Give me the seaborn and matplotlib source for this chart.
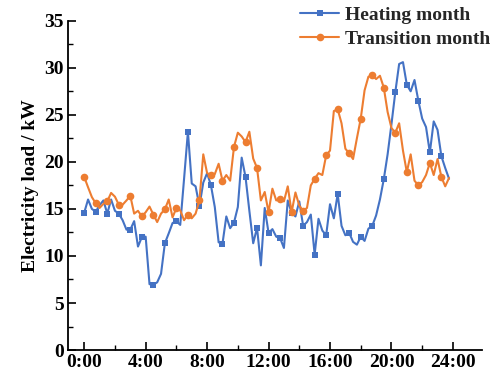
import numpy as np
import pandas as pd
import seaborn as sns
import matplotlib
matplotlib.use("Agg")
import matplotlib.pyplot as plt
from matplotlib.ticker import MultipleLocator

# 15-minute load samples over one day (kW)
heating_month = [
    14.6, 16.0, 15.0, 14.7, 15.4, 15.9, 14.5, 16.0, 14.8, 14.5, 13.8, 12.8,
    12.8, 13.7, 11.0, 12.0, 12.05, 7.0, 6.95, 7.2, 8.1, 11.35, 12.4, 13.5,
    13.7, 13.3, 18.2, 23.2, 17.7, 17.4, 15.3, 17.8, 18.8, 17.5, 15.2, 11.45,
    11.3, 14.2, 12.95, 13.55, 15.2, 20.45, 18.4, 14.8, 11.35, 13.0, 9.0, 15.1,
    12.45, 12.85, 12.05, 11.9, 10.85, 15.9, 14.6, 14.2, 15.8, 13.2, 13.6, 14.4,
    10.15, 13.95, 12.7, 12.2, 15.5, 14.0, 16.6, 13.2, 12.2, 12.45, 11.5, 11.2,
    12.05, 11.6, 12.9, 13.2, 14.3, 16.0, 18.15, 20.8, 24.0, 27.4, 30.4, 30.6,
    28.2, 27.5, 28.7, 26.5, 24.6, 23.7, 21.0, 24.3, 23.4, 20.6, 19.35, 18.2,
]
transition_month = [
    18.4, 17.3, 16.25, 15.6, 15.1, 15.55, 15.8, 16.7, 16.3, 15.45, 15.45, 15.9,
    16.4, 14.5, 14.8, 14.2, 14.65, 15.25, 14.4, 13.6, 14.5, 14.95, 16.0, 14.1,
    15.1, 14.85, 13.8, 14.4, 14.0, 14.5, 15.9, 20.8, 18.8, 18.6, 18.7, 19.8,
    18.0, 18.6, 18.0, 21.6, 23.1, 22.7, 22.1, 23.2, 20.35, 19.35, 15.9, 16.8,
    14.65, 17.15, 15.9, 16.1, 15.8, 17.4, 14.65, 16.75, 15.35, 14.8, 15.1, 17.5,
    18.2, 18.8, 18.6, 20.7, 21.2, 25.4, 25.6, 24.1, 21.4, 20.9, 20.3, 22.5,
    24.6, 27.6, 29.05, 29.2, 28.8, 29.15, 27.9, 25.3, 23.6, 23.1, 24.1, 21.2,
    18.9, 20.8, 18.0, 17.5, 17.85, 18.6, 19.9, 18.6, 20.3, 18.4, 17.4, 18.3,
]
hours = np.arange(len(heating_month)) * 0.25
tick_hours = [0, 4, 8, 12, 16, 20, 24]
tick_labels = ["0:00", "4:00", "8:00", "12:00", "16:00", "20:00", "24:00"]

sns.set_theme(style="ticks")
plt.rcParams["font.family"] = ["Liberation Serif", "DejaVu Serif"]
plt.rcParams["font.weight"] = "bold"
plt.rcParams["axes.labelweight"] = "bold"

fig = plt.figure(figsize=(4.97, 3.74), dpi=100)
ax = fig.add_axes([0.137, 0.064, 0.833, 0.8806])

blue = "#4472C4"
orange = "#ED7D31"

sns.lineplot(x=hours, y=heating_month, ax=ax, color=blue, linewidth=1.5,
             marker="s", markersize=5, markeredgewidth=0, markevery=3,
             label="Heating month")
sns.lineplot(x=hours, y=transition_month, ax=ax, color=orange, linewidth=1.5,
             marker="o", markersize=5.5, markeredgewidth=0, markevery=3,
             label="Transition month")

ax.set_xlim(-1.05, 25.9)
ax.set_ylim(0, 35)
ax.set_xticks(tick_hours)
ax.set_xticklabels(tick_labels)
ax.xaxis.set_minor_locator(MultipleLocator(2))
ax.yaxis.set_major_locator(MultipleLocator(5))
ax.yaxis.set_minor_locator(MultipleLocator(2.5))
ax.tick_params(axis="both", which="major", direction="in", length=6, width=1.2,
               labelsize=14, pad=3, color="black", labelcolor="black")
ax.tick_params(axis="both", which="minor", direction="in", length=3.5, width=1.0,
               color="black")
for lbl in ax.get_xticklabels() + ax.get_yticklabels():
    lbl.set_fontweight("bold")

ax.set_xlabel("")
ax.set_ylabel("Electricity load / kW", fontsize=14, fontweight="bold",
              color="black", labelpad=4)

sns.despine(ax=ax)
for side in ("left", "bottom"):
    ax.spines[side].set_linewidth(1.3)
    ax.spines[side].set_color("black")

ax.legend_.remove()
handles, labels = ax.get_legend_handles_labels()
fig.legend(handles, labels, loc="upper right", bbox_to_anchor=(1.01, 1.015),
           frameon=False, fontsize=14, handlelength=2.0, handletextpad=0.3,
           labelspacing=0.35, borderaxespad=0.2,
           prop={"weight": "bold", "size": 14})

fig.savefig("out.png", dpi=100)
